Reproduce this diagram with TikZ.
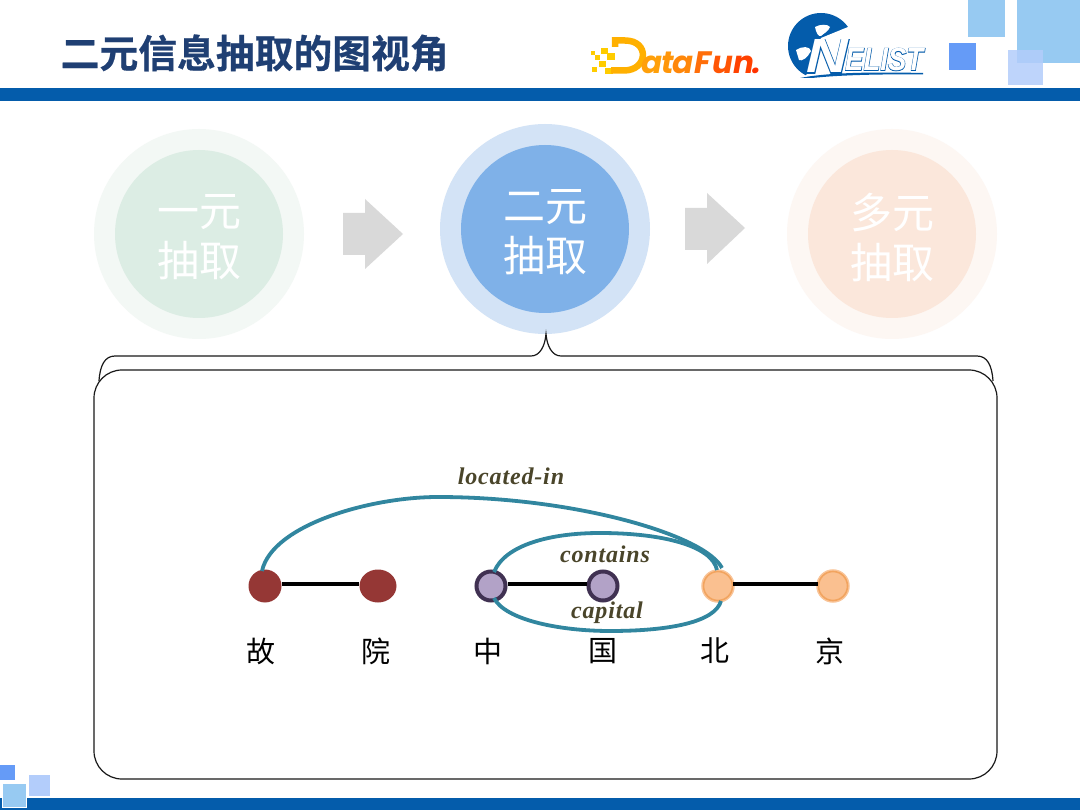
\documentclass[tikz,border=0pt]{standalone}
\usepackage{fontspec}
\setmainfont{Liberation Serif}
\newfontfamily\cjk[BoldFont=Noto Sans CJK SC Bold,BoldFeatures={FakeBold=0.6}]{Noto Sans CJK SC}
\newfontfamily\logofont{Poppins}
\newfontfamily\relfont[LetterSpace=3.5]{Liberation Serif}
\newfontfamily\nelistfont[FakeBold=3.5,FakeStretch=1.2]{Liberation Sans Bold Italic}
\newfontfamily\nelistthin[FakeStretch=1.2]{Liberation Sans Bold Italic}
\newfontfamily\nelistnarrow[FakeBold=3,FakeStretch=0.86]{Liberation Sans Bold Italic}
\newfontfamily\nelistnarrowthin[FakeStretch=0.86]{Liberation Sans Bold Italic}
\definecolor{barblue}{HTML}{045CAB}
\definecolor{titleblue}{HTML}{1F3F73}
\definecolor{sqsky}{HTML}{97CAF2}
\definecolor{sqblue}{HTML}{659BF7}
\definecolor{sqpale}{HTML}{B3CDFB}
\definecolor{arcteal}{HTML}{31869F}
\definecolor{labelolive}{HTML}{4A452A}
\definecolor{redent}{HTML}{953735}
\definecolor{purpfill}{HTML}{B2A2C7}
\definecolor{purpline}{HTML}{403152}
\definecolor{orfill}{HTML}{FAC090}
\definecolor{orline}{HTML}{F2A45F}
\definecolor{orlight}{HTML}{F9C59A}
\definecolor{arrowgrey}{HTML}{D9D9D9}
\definecolor{greenout}{HTML}{F3F8F5}
\definecolor{greenin}{HTML}{DCEDE4}
\definecolor{blueout}{HTML}{D3E3F6}
\definecolor{bluein}{HTML}{7FB1E8}
\definecolor{orout}{HTML}{FDF7F3}
\definecolor{orin}{HTML}{FBE7DB}
\tikzset{
  x=1pt,y=-1pt,
  disc/.style={circle,minimum size=#1,inner sep=0pt,draw=none},
  stage/.style={font=\cjk\fontsize{42}{50}\selectfont,text=white,align=center,inner sep=0pt},
  block/.style={fill=arrowgrey,draw=none},
  ent/.style={ellipse,inner sep=0pt},
  redE/.style={ent,fill=redent},
  purE/.style={ent,fill=purpfill,draw=purpline,line width=4pt,minimum width=29pt,minimum height=29pt},
  orE/.style={ent,fill=orfill,draw=orline,line width=1.6pt,minimum width=29pt,minimum height=29pt,preaction={draw=orlight,line width=4.5pt}},
  tie/.style={line width=3.6pt,black},
  rel/.style={line width=3.8pt,arcteal},
  relabel/.style={font=\relfont\bfseries\itshape\fontsize{24}{26}\selectfont,text=labelolive,inner sep=0pt},
  word/.style={font=\cjk\fontsize{29}{32}\selectfont,inner sep=0pt},
  dletter/.style={font=\logofont\bfseries\itshape\fontsize{31}{33}\selectfont,inner sep=0pt,anchor=base west},
  logoN/.style={anchor=base west,inner sep=0pt},
}
\usetikzlibrary{shapes.geometric}
\begin{document}
\begin{tikzpicture}
\useasboundingbox (0,0) rectangle (1080,810);
\fill[white] (0,0) rectangle (1080,810);
% bars
\fill[barblue] (0,88) rectangle (1080,101);
\fill[barblue] (0,798) rectangle (1080,810);
% corner squares
\fill[sqsky] (968,0) rectangle (1005,37);
\fill[sqsky] (1017,0) rectangle (1080,63);
\fill[sqblue,draw=white,line width=.6pt] (948,42) rectangle (976,70);
\fill[sqpale,opacity=.85] (1008,50) rectangle (1043,85);
\fill[sqblue,draw=white,line width=.6pt] (-2,764) rectangle (15,780);
\fill[sqpale,draw=white,line width=.6pt] (28,774) rectangle (50,796);
\fill[sqsky,draw=white,line width=.6pt] (2,783) rectangle (26,807);
% title
\node[anchor=west,inner sep=0pt,text=titleblue,font=\cjk\bfseries\fontsize{38.8}{42}\selectfont] (title) at (60.5,53) {二元信息抽取的图视角};
% DataFun logo
\definecolor{dsq}{HTML}{FFCC00}
\fill[dsq] (591,51) rectangle ++(4,4);
\fill[dsq] (601,48) rectangle ++(7,6);
\fill[dsq] (595,55) rectangle ++(5,5);
\fill[dsq] (607,53) rectangle ++(8,7);
\fill[dsq] (599,61) rectangle ++(7,6);
\fill[dsq] (592,67) rectangle ++(5,5);
\fill[dsq] (605,68) rectangle ++(8,6);
\draw[line width=6.5pt,color={rgb,255:red,255;green,176;blue,0}] (615,47) -- (615,40.5) -- (625,40.5) .. controls (650,40.5) and (648,70.5) .. (624,70.5) -- (611,70.5);
\node[dletter,text={rgb,255:red,255;green,160;blue,10}] (dfa) at (641,73.5) {a};
\node[dletter,text={rgb,255:red,255;green,150;blue,10}] (dft) at (661,73.5) {t};
\node[dletter,text={rgb,255:red,255;green,135;blue,10}] (dfa2) at (672,73.5) {a};
\node[dletter,text={rgb,255:red,255;green,110;blue,10}] (dff) at (694,73.5) {F};
\node[dletter,text={rgb,255:red,255;green,85;blue,5}] (dfu) at (712,73.5) {u};
\node[dletter,text={rgb,255:red,255;green,65;blue,0}] (dfn) at (733,73.5) {n};
\node[dletter,text={rgb,255:red,255;green,50;blue,0}] (dfd) at (752,73.5) {.};
% NELIST globe
\fill[barblue] (821,46) circle (33);
\fill[white] (848,27) -- (858,27) -- (858,82) -- (800,82) -- (808,73) -- (821,38) -- cycle;
\fill[white] (815,27) .. controls (820,24) and (828,24) .. (830,27) .. controls (828,32) and (824,33) .. (821,36) .. controls (818,37) and (816,32) .. (815,27) -- cycle;
\fill[white] (796,50) .. controls (802,46) and (810,46) .. (811,51) .. controls (808,57) and (802,62) .. (799,60) -- cycle;
\fill[barblue] (800,78) .. controls (830,72) and (880,72) .. (923,73) -- (923,74.5) .. controls (880,74) and (840,75) .. (812,78) -- cycle;
\node[logoN,text=barblue,font=\nelistfont\fontsize{48}{50}\selectfont] (nelistback) at (806,73) {N};
\node[logoN,text=barblue,font=\nelistnarrow\fontsize{32}{34}\selectfont] (nelistbackb) at (845,70.5) {ELIST};
\node[logoN,text=white,font=\nelistthin\fontsize{48}{50}\selectfont] (nelist) at (806,73) {N};
\node[logoN,text=white,font=\nelistnarrowthin\fontsize{32}{34}\selectfont] (nelistb) at (845,70.5) {ELIST};
% stage circles
\node[disc=210pt,fill=greenout] (c1o) at (199,234) {};
\node[disc=168pt,fill=greenin] (c1) at (199,234) {};
\node[stage] (t1) at (199,237) {一元\\[0pt]抽取};
\node[disc=210pt,fill=blueout] (c2o) at (545,229) {};
\node[disc=168pt,fill=bluein] (c2) at (545,229) {};
\node[stage] (t2) at (545,232) {二元\\[0pt]抽取};
\node[disc=210pt,fill=orout] (c3o) at (892,234) {};
\node[disc=168pt,fill=orin] (c3) at (892,234) {};
\node[stage] (t3) at (892,237) {多元\\[0pt]抽取};
% block arrows
\fill[block] (343,213) -- (365,213) -- (365,199) -- (403,234) -- (365,269) -- (365,255) -- (343,255) -- cycle;
\fill[block] (685,208) -- (707,208) -- (707,193) -- (745,228) -- (707,264) -- (707,250) -- (685,250) -- cycle;
% brace and box
\coordinate (bl) at (99,381);
\coordinate (br) at (993,381);
\coordinate (tip) at (546,334);
\draw[line width=1.2pt,black!90] (bl) .. controls (100,365) and (105,356) .. (115,356) -- (531,356) .. controls (540,356) and (545,346) .. (tip) .. controls (547,346) and (552,356) .. (561,356) -- (977,356) .. controls (987,356) and (992,365) .. (br);
\node[draw=black!90,fill=white,line width=1.2pt,rounded corners=28pt,minimum width=903pt,minimum height=409pt,inner sep=0pt] (box) at (545.5,574.5) {};
% entities
\node[redE,minimum width=33pt,minimum height=33pt] (e1) at (265,586) {};
\node[redE,minimum width=37pt,minimum height=33pt] (e2) at (378,586) {};
\node[purE] (e3) at (491,586) {};
\node[purE] (e4) at (603,586) {};
\node[orE] (e5) at (718,586) {};
\node[orE] (e6) at (833,586) {};
\draw[tie] ([yshift=2pt]e1.east) -- ([yshift=2pt]e2.west);
\draw[tie] ([yshift=2pt]e3.east) -- ([yshift=2pt]e4.west);
\draw[tie] ([yshift=2pt]e5.east) -- ([yshift=2pt]e6.west);
% relations
\coordinate (a1) at (262,571);
\coordinate (a2) at (722,568);
\draw[rel] (a1) .. controls (272,525) and (370,497) .. (438,497) .. controls (575,497) and (705,535) .. (a2);
\coordinate (d1) at (494,572);
\coordinate (d2) at (717,570);
\draw[rel] (d1) .. controls (505,545) and (550,533) .. (600,533) .. controls (660,533) and (712,545) .. (d2);
\coordinate (f1) at (494,598);
\coordinate (f2) at (721,601);
\draw[rel] (f1) .. controls (505,620) and (560,631) .. (610,631) .. controls (670,631) and (715,622) .. (f2);
% labels
\node[relabel] (l1) at (511,476) {located-in};
\node[relabel] (l2) at (605,554) {contains};
\node[relabel] (l3) at (607,613) {capital};
\node[word] (w1) at (261,651) {故};
\node[word] (w2) at (376,651) {院};
\node[word] (w3) at (488,651) {中};
\node[word] (w4) at (603,651) {国};
\node[word] (w5) at (715,651) {北};
\node[word] (w6) at (830,651) {京};
\end{tikzpicture}
\end{document}
